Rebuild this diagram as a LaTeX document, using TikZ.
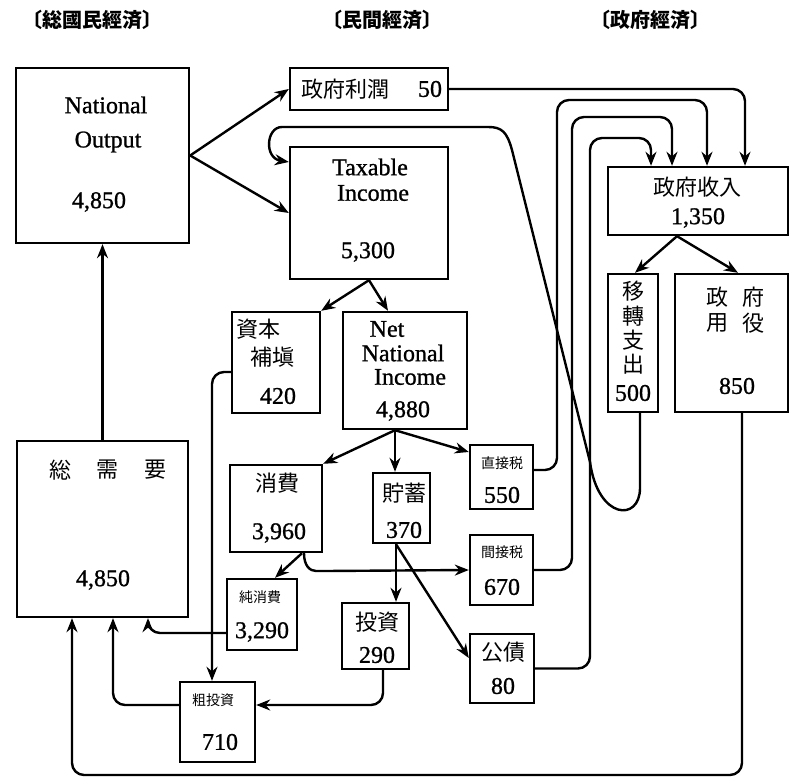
\documentclass[tikz,border=0pt]{standalone}
\usepackage{fontspec}
\setmainfont{Liberation Serif}
\newfontfamily\serifb[FakeBold=1]{Liberation Serif}
\newfontfamily\cjk{Noto Sans CJK JP}
\usetikzlibrary{arrows.meta,fit}

\tikzset{
  box/.style={draw, line width=1.2pt, inner sep=0pt},
  num/.style={font=\serifb\fontsize{12}{14}\selectfont},
  kan/.style={font=\cjk\fontsize{11}{13}\selectfont},
  kansm/.style={font=\cjk\fontsize{7}{9}\selectfont},
  head/.style={font=\cjk\bfseries\fontsize{10}{12}\selectfont},
  flow/.style={-{Stealth[length=7pt,width=5.5pt]}, line width=1.2pt, rounded corners=6pt},
}

\begin{document}
\begin{tikzpicture}[x=0.5pt, y=-0.5pt]
  \useasboundingbox (0,0) rectangle (799,780);

  % headers
  \node[head] (hTotal) at (93,20) {〔総國民經済〕};
  \node[head] (hPriv) at (382,20) {〔民間經済〕};
  \node[head] (hGov) at (650,20) {〔政府經済〕};

  % boxes
  \node[box, fit={(16,68) (189,243)}] (natout) {};
  \node[box, fit={(290,68) (448,110)}] (profit) {};
  \node[box, fit={(290,147) (448,279)}] (taxinc) {};
  \node[box, fit={(232,312) (320,413)}] (capcon) {};
  \node[box, fit={(343,312) (467,429)}] (nni) {};
  \node[box, fit={(470,445) (533,509)}] (dtax) {};
  \node[box, fit={(470,535) (533,605)}] (itax) {};
  \node[box, fit={(470,634) (534,703)}] (bond) {};
  \node[box, fit={(608,167) (788,235)}] (govrev) {};
  \node[box, fit={(608,274) (658,412)}] (transfer) {};
  \node[box, fit={(675,274) (788,412)}] (govsvc) {};
  \node[box, fit={(17,441) (188,617)}] (agg) {};
  \node[box, fit={(230,465) (322,552)}] (cons) {};
  \node[box, fit={(373,473) (430,543)}] (sav) {};
  \node[box, fit={(227,579) (297,650)}] (purecons) {};
  \node[box, fit={(342,603) (409,669)}] (invest) {};
  \node[box, fit={(180,682) (255,762)}] (grossinv) {};

  % texts
  \node[num] (natoutA) at (106,105) {National};
  \node[num] (natoutB) at (108,142) {Output};
  \node[num] (natoutN) at (99,202) {4,850};
  \node[kan] (profitA) at (345,89) {政府利潤};
  \node[num] (profitN) at (430,89) {50};
  \node[num] (taxincA) at (370,167) {Taxable};
  \node[num] (taxincB) at (373,193) {Income};
  \node[num] (taxincN) at (368,252) {5,300};
  \node[kan] (capconA) at (258,329) {資本};
  \node[kan] (capconB) at (272,357) {補塡};
  \node[num] (capconN) at (278,396) {420};
  \node[num] (nniA) at (387,329) {Net};
  \node[num] (nniB) at (403,353) {National};
  \node[num] (nniC) at (410,377) {Income};
  \node[num] (nniN) at (403,411) {4,880};
  \node[kansm] (dtaxA) at (502,463) {直接税};
  \node[num] (dtaxN) at (502,495) {550};
  \node[kansm] (itaxA) at (502,552) {間接税};
  \node[num] (itaxN) at (502,587) {670};
  \node[kan] (bondA) at (503,652) {公債};
  \node[num] (bondN) at (503,686) {80};
  \node[kan] (govrevA) at (697,187) {政府收入};
  \node[num] (govrevN) at (698,218) {1,350};
  \node[kan] (transferA) at (633,291) {移};
  \node[kan] (transferB) at (633,316) {轉};
  \node[kan] (transferC) at (633,340) {支};
  \node[kan] (transferD) at (633,364) {出};
  \node[num] (transferN) at (633,393) {500};
  \node[kan] (govsvcA) at (717,297) {政};
  \node[kan] (govsvcB) at (753,297) {府};
  \node[kan] (govsvcC) at (717,323) {用};
  \node[kan] (govsvcD) at (753,323) {役};
  \node[num] (govsvcN) at (737,386) {850};
  \node[kan] (aggA) at (60,470) {総};
  \node[kan] (aggB) at (107,470) {需};
  \node[kan] (aggC) at (155,470) {要};
  \node[num] (aggN) at (103,580) {4,850};
  \node[kan] (consA) at (277,483) {消費};
  \node[num] (consN) at (279,533) {3,960};
  \node[kan] (savA) at (404,493) {貯蓄};
  \node[num] (savN) at (404,530) {370};
  \node[kansm] (pureconsA) at (260,597) {純消費};
  \node[num] (pureconsN) at (262,632) {3,290};
  \node[kan] (investA) at (377,622) {投資};
  \node[num] (investN) at (377,655) {290};
  \node[kansm] (grossinvA) at (213,700) {粗投資};
  \node[num] (grossinvN) at (220,742) {710};

  % national output -> private
  \draw[flow] (natout.east) -- (profit.west);
  \draw[flow] (natout.east) -- (taxinc.west);
  \draw[flow] (profit.east) -| (745,0 |- govrev.north);

  % taxable income split
  \draw[flow] (taxinc.south) -- (capcon.north east);
  \draw[flow] (taxinc.south) -- (388,0 |- nni.north);
  \draw[flow] (capcon.west |- 0,372) -| (212,0 |- grossinv.north);

  % net national income split
  \coordinate (nnib) at (395,0 |- nni.south);
  \draw[flow] (nnib) -- (cons.north east);
  \draw[flow] (nnib) -- (395,0 |- sav.north);
  \draw[flow] (nnib) -- (dtax.west |- 0,452);

  % consumption
  \draw[flow] (302,0 |- cons.south) -- (275,0 |- purecons.north);
  \draw[flow] (304,0 |- cons.south) .. controls (304,566) and (310,571) .. (328,571) -- (itax.west);

  % saving
  \draw[flow] (396,0 |- sav.south) -- (396,0 |- invest.north);
  \draw[flow] (396,0 |- sav.south) -- (bond.west |- 0,658);
  \draw[flow] (383,0 |- invest.south) |- (grossinv.east |- 0,705);

  % back to aggregate demand
  \draw[flow] (purecons.west |- 0,633) -| (148,0 |- agg.south);
  \draw[flow] (grossinv.west |- 0,705) -| (113,0 |- agg.south);
  \draw[flow] (agg.north) -- (natout.south);

  % taxes and bonds -> government revenue
  \draw[flow] (dtax.east |- 0,470) -| (557,100) -| (707,0 |- govrev.north);
  \draw[flow] (itax.east) -| (572,117) -| (672,0 |- govrev.north);
  \draw[flow] (bond.east) -| (590,138) -| (651,0 |- govrev.north);

  % government revenue split
  \draw[flow] (677,0 |- govrev.south) -- (635,0 |- transfer.north);
  \draw[flow] (677,0 |- govrev.south) -- (738,0 |- govsvc.north);

  % transfer payments back to taxable income
  \draw[flow, sharp corners] (640,0 |- transfer.south) -- (640,488)
    .. controls (640,522) and (598,520) .. (590,462) -- (512,150)
    .. controls (507,132) and (502,127) .. (488,127) -- (282,127)
    .. controls (266,127) and (264,158) .. (taxinc.west |- 0,162);

  % government services -> aggregate demand
  \draw[flow] (742,0 |- govsvc.south) |- (72,775) -- (72,0 |- agg.south);
\end{tikzpicture}
\end{document}
